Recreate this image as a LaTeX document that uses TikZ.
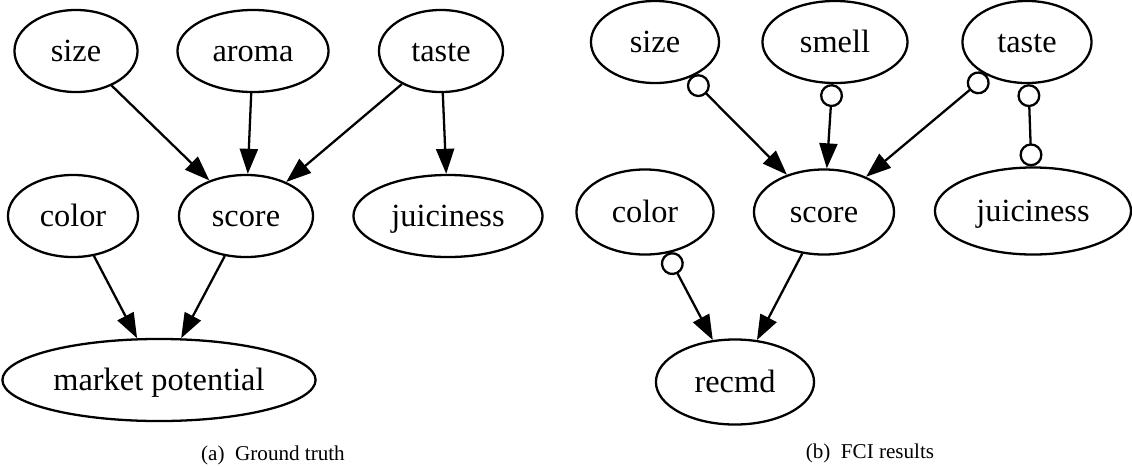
\documentclass[tikz,border=0pt]{standalone}
\usepackage{fontspec}
\setmainfont{Liberation Serif}
\usetikzlibrary{shapes.geometric,arrows.meta}

\begin{document}
\begin{tikzpicture}[x=0.01cm,y=-0.01cm,
  var/.style={draw,ellipse,line width=0.65pt,inner sep=0pt,minimum height=0.82cm,text height=1.6ex,text depth=0.25ex,font=\fontsize{9.2}{11}\selectfont},
  cause/.style={line width=0.65pt,-{Triangle[length=0.25cm,width=0.18cm]}},
  maybe/.style={line width=0.65pt,{Circle[open,length=0.23cm]}-{Triangle[length=0.25cm,width=0.18cm]}},
  both/.style={line width=0.65pt,{Circle[open,length=0.23cm]}-{Circle[open,length=0.23cm]}},
  subcap/.style={font=\fontsize{6}{7}\selectfont}]
\useasboundingbox (0,0) rectangle (1132,466);
% (a) ground truth
\node[var,minimum width=1.23cm] (size1) at (76,51) {size};
\node[var,minimum width=1.51cm] (aroma1) at (253,51) {aroma};
\node[var,minimum width=1.24cm] (taste1) at (441,51) {taste};
\node[var,minimum width=1.30cm] (color1) at (73,216) {color};
\node[var,minimum width=1.34cm] (score1) at (246,216) {score};
\node[var,minimum width=1.89cm] (juice1) at (448,216) {juiciness};
\node[var,minimum width=3.13cm] (market1) at (159,380) {market potential};
\node[subcap] (capa) at (273,455) {(a)~ Ground truth};
\draw[cause] (size1)--(score1);
\draw[cause] (aroma1)--(score1);
\draw[cause] (taste1)--(score1);
\draw[cause] (taste1)--(juice1);
\draw[cause] (color1)--(market1);
\draw[cause] (score1)--(market1);
% (b) FCI results
\node[var,minimum width=1.28cm] (size2) at (655,42) {size};
\node[var,minimum width=1.45cm] (smell2) at (835,42) {smell};
\node[var,minimum width=1.29cm] (taste2) at (1027,42) {taste};
\node[var,minimum width=1.37cm,minimum height=0.85cm] (color2) at (645,212) {color};
\node[var,minimum width=1.40cm,minimum height=0.85cm] (score2) at (824,212) {score};
\node[var,minimum width=1.96cm,minimum height=0.87cm] (juice2) at (1033,211) {juiciness};
\node[var,minimum width=1.58cm,minimum height=0.85cm] (recmd2) at (735,382) {recmd};
\node[subcap] (capb) at (870,453) {(b)~ FCI results};
\draw[maybe] (size2)--(score2);
\draw[maybe] (smell2)--(score2);
\draw[maybe] (taste2)--(score2);
\draw[both] (taste2)--(juice2);
\draw[maybe] (color2)--(recmd2);
\draw[cause] (score2)--(recmd2);
\end{tikzpicture}
\end{document}
